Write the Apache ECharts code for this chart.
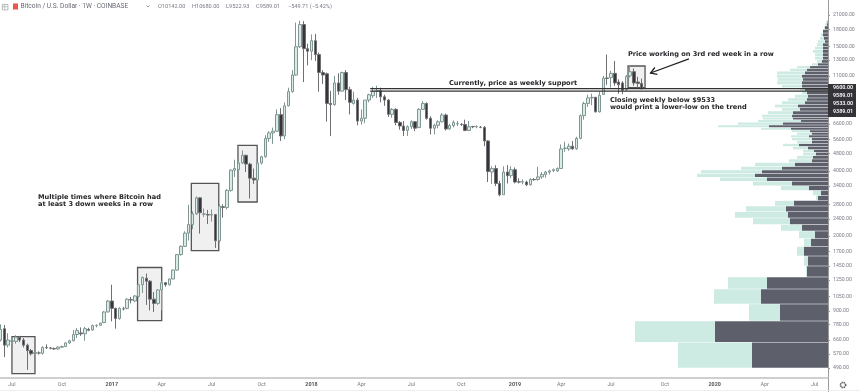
<!DOCTYPE html>
<html><head><meta charset="utf-8">
<style>html,body{margin:0;padding:0;background:#fff}#c{width:860px;height:392px}</style>
<script src="https://cdn.jsdelivr.net/npm/echarts@6/dist/echarts.min.js"></script>
</head><body><div id="c"></div>
<script>
// Weekly candles [open, close, low, high]
const candles2016 = [[660,740,650,780],[745,625,550,775],[625,660,610,710],[650,655,630,680],[650,680,635,695],[680,660,645,690],[660,625,610,675],[625,590,480,635],[590,570,560,600],[572,578,565,585],[575,575,565,585],[573,610,565,618],[610,608,600,630],[607,605,598,612],[603,600,595,610],[600,612,596,618],[612,616,606,622],[616,640,612,645],[640,655,632,662],[655,700,650,735],[700,730,675,750],[712,705,690,755],[705,745,655,760],[738,732,725,752],[735,770,728,778],[770,772,755,780],[772,790,768,795],[795,890,790,900],[890,1000,885,1010]];
const candles2017 = [[1000,925,805,1190],[925,830,745,930],[830,925,820,935],[920,920,905,940],[925,1020,915,1030],[1015,1010,975,1045],[1000,1055,990,1065],[1050,1190,1040,1200],[1190,1285,1090,1300],[1275,1235,960,1340],[1235,1020,905,1250],[1020,975,890,1100],[975,1125,960,1135],[1125,1215,906,1235],[1215,1190,1165,1225],[1190,1265,1180,1270],[1265,1390,1260,1400],[1390,1640,1380,1650],[1640,1790,1620,1810],[1790,2060,1780,2100],[2060,2260,1906,2790],[2260,2530,2150,2600],[2530,3000,2500,3050],[3000,2560,2050,3010],[2520,2530,2450,2680],[2510,2500,2270,2640],[2500,2510,2330,2650],[2510,1900,1760,2530],[1900,2750,1860,2800],[2730,2710,2430,2800],[2710,3250,2650,3290],[3250,4030,3200,4060],[4030,4100,3750,4500],[4050,4350,4000,4450],[4350,4720,4300,4970],[4720,4300,3950,4750],[4300,3700,2980,4360],[3700,3630,3480,4100],[3630,4350,3600,4400],[4350,4650,4280,4700],[4650,5650,4600,5850],[5650,5990,5450,6100],[5990,6100,5330,6340],[6100,7280,6050,7700],[7280,5800,5500,7800],[5800,8000,5600,8300],[8000,9300,7950,9700],[9300,11100,9200,11700],[11100,15000,11000,19400],[15000,19000,14800,19800],[19000,14700,10300,19700],[14700,14300,12300,15500]];
const candles2018 = [[14300,16000,13000,17100],[16000,13800,12900,17200],[13800,11400,9300,14100],[11400,11100,10100,11700],[11250,8200,6760,11400],[8200,8100,5790,9380],[8100,10200,8000,11000],[10200,9350,9000,11300],[9350,11400,9300,11500],[11400,9500,8500,11700],[9500,8300,7300,9800],[8200,8500,8100,9300],[8500,6800,6500,8700],[6800,7000,6550,7700],[7000,8500,6650,8500],[8500,9000,8300,9100],[8900,9300,8700,9800],[9350,9400,8700,9900],[9400,8800,8300,9700],[8800,8500,8000,9000],[8500,7300,7100,8600],[7300,7700,7050,7800],[7700,6700,6500,7800],[6700,6450,6200,6800],[6450,6150,5800,6800],[6150,6400,5800,6500],[6400,6750,6250,6850],[6750,6300,6100,6800],[6350,7700,6300,7800],[7700,8200,7650,8400],[8200,7000,6900,8300],[7000,6300,5900,7150],[6300,6500,5900,6600],[6500,6750,6300,6850],[6750,7250,6700,7400],[7250,6250,6150,7350],[6250,6480,6200,6600],[6480,6700,6350,6850],[6600,6620,6450,6800],[6560,6550,6450,6650],[6550,6150,6100,6900],[6150,6400,6100,6800],[6410,6400,6300,6460],[6400,6420,6300,6500],[6370,6360,6300,6450],[6350,5500,5200,6450],[5500,3970,3550,5550],[3950,4100,3480,4200],[4100,3500,3400,4250],[3500,3100,3050,3600],[3100,3950,3100,4200],[3950,3800,3500,4250],[3800,4050,3700,4200]];
const candles2019 = [[4050,3550,3500,4150],[3560,3550,3500,3700],[3550,3560,3470,3650],[3550,3450,3400,3600],[3450,3650,3420,3700],[3650,3640,3600,3700],[3650,3750,3600,4180],[3750,3850,3680,3950],[3850,3950,3720,4000],[3950,4000,3850,4050],[4010,4050,3950,4100],[4000,4100,3950,4150],[4100,5050,4090,5300],[5080,5100,4900,5450],[5050,5200,4950,5350],[5200,5060,5000,5500],[5060,5650,5000,5750],[5650,7200,5600,7300],[7200,8200,6900,8350],[8200,8700,7900,9000],[8700,8750,8050,9100],[8750,7500,7450,8800],[7500,8950,7450,9300],[9020,10740,9000,11000],[10760,10700,10000,13800],[10800,11300,9700,11600],[11300,10200,9900,12900],[10300,10000,9100,10600],[10200,9450,9050,10400],[9500,10950,9350,11100],[11000,11500,10800,12300],[11500,10200,9900,11900],[10300,10150,9700,10900],[10142,9589.01,9522.93,10680]];

// Volume profile: row edges in price (bottom to top), then volumes per row
const profileEdges = [490,645,808,969,1136,1292,1452,1615,1787,1946,2108,2258,2422,2590,2751,2914,3073,3247,3414,3577,3734,3884,4037,4193,4371,4538,4705,4873,5016,5189,5348,5526,5700,5858,6023,6181,6340,6525,6716,6893,7059,7292,7566,7845,8122,8412,8694,9020,9360,9693,10030,10410,10760,11156,11560,11900,12240,12610,13050,13510,14030,14540,15050,15600,16120,16720,17360,18030,18720,19330,19850];
const profileDark = [76,113,48,67,61,21,20,24,17,13,26,38,40,42,34,10,7,19,36,61,73,66,46,33,16,15,12,14,20,29,16,16,19,16,18,37,59,45,27,35,36,35,28,30,23,21,20,21,23,26,26,25,26,23,21,18,10,6,5,5,5,5,5,3,4,5,5,3,1,0.5];
const profileLight = [74,80,31,47,39,1,4,7,7,16,21,37,53,40,19,2,8,28,39,47,58,61,41,40,23,16,13,11,15,16,15,20,18,15,18,30,51,45,43,30,30,25,18,23,23,19,13,5,5,20,25,25,25,28,17,13,6,5,8,8,10,8,6,7,4,2,0,1,2,1.5];

// Price scale tick labels
const priceTicks = [490,570,660,780,900,1050,1250,1450,1700,2000,2400,2800,3400,4000,4800,5600,6600,11000,13000,15000,18000,21000,25000];

// Annotations
const boxes = [["2016-07-04","2016-08-15",684,462],["2017-02-18","2017-04-03",1429,811],["2017-05-27","2017-07-16",3503,1709],["2017-08-20","2017-09-24",5252,2871],["2019-08-01","2019-09-01",12220,9693]];
const supportLevels = [9600,9360];
const supportStart = "2018-04-18";
const arrowFrom = ["2019-11-20",13190];
const arrowTo = ["2019-09-11",11340];
const priceTags = ["9600.00","9589.01","9533.00","9389.01"];

const START = Date.UTC(2016,5,13), WEEK = 7*864e5, WEEK_COUNT = 216;
const weeks = [];
for (let i=0;i<WEEK_COUNT;i++) weeks.push(new Date(START+i*WEEK).toISOString().slice(0,10));
const weekPos = s => (Date.parse(s)-START)/WEEK;
const quarterStart = v => { const d=new Date(v); return d.getUTCDate()<=7 && d.getUTCMonth()%3===0; };
const MONTHS = {0:'',3:'Apr',6:'Jul',9:'Oct'};

const candles = [...candles2016,...candles2017,...candles2018,...candles2019];
const profileRows = profileDark.map((d,i)=>[profileEdges[i],profileEdges[i+1],d,profileLight[i]]);
const UP_FILL='#d8ebe6', UP_EDGE='#7f9692', DOWN='#36363a', DOWN_EDGE='#6e6e73', TEXT='#777b85', NOTE='#26262a';
const noteFont = {fontFamily:'"DejaVu Sans"',fontWeight:'bold',fontSize:6.6,fill:NOTE,lineHeight:7};

const chart = echarts.init(document.getElementById('c'),null,{renderer:'canvas'});
chart.setOption({
  animation:false,
  grid:{left:-1.5,right:32,top:-3,bottom:14,containLabel:false,outerBoundsMode:'none'},
  xAxis:[
    {type:'category',data:weeks,boundaryGap:true,
     axisLine:{lineStyle:{color:'#cfcfcf',width:2}},
     axisTick:{alignWithLabel:true,interval:(i,v)=>quarterStart(v),length:2,lineStyle:{color:'#999',width:1}},
     axisLabel:{interval:(i,v)=>quarterStart(v),margin:4,fontFamily:'Roboto',fontSize:5.4,color:TEXT,
       formatter:v=>{const d=new Date(v),m=d.getUTCMonth();return m===0?'{y|'+d.getUTCFullYear()+'}':MONTHS[m];},
       rich:{y:{fontFamily:'Roboto',fontSize:5.4,fontWeight:'bold',color:'#555'}}},
     splitLine:{show:false}},
    {type:'value',inverse:true,min:0,max:829.5,show:false,splitLine:{show:false}},
    {type:'value',min:-0.5,max:WEEK_COUNT-0.5,show:false,splitLine:{show:false}}
  ],
  yAxis:{type:'log',position:'right',min:440.5,max:25480,logBase:10,
    axisLine:{show:true,lineStyle:{color:'#9a9a9a',width:1}},
    axisTick:{show:true,length:2,customValues:priceTicks,lineStyle:{color:'#9a9a9a'}},
    axisLabel:{show:true,margin:5,customValues:priceTicks,fontFamily:'Roboto',fontSize:5.2,color:TEXT,formatter:v=>Number(v).toFixed(2)},
    splitLine:{show:false}},
  series:[
    {type:'custom',name:'Volume profile',xAxisIndex:1,yAxisIndex:0,z:1,clip:false,silent:true,data:profileRows,
     encode:{x:[2,3],y:[0,1]},
     renderItem:(p,api)=>{
       const lo=api.value(0),hi=api.value(1),d=api.value(2),l=api.value(3);
       const a=api.coord([0,lo]),b=api.coord([d,hi]),c=api.coord([d+l,hi]);
       const y=b[1]+0.25,h=a[1]-b[1]-0.5;
       return {type:'group',children:[
         {type:'rect',shape:{x:c[0],y,width:b[0]-c[0],height:h},style:{fill:'#cdeae3'}},
         {type:'rect',shape:{x:b[0],y,width:a[0]-b[0],height:h},style:{fill:'#5d606b'}}]};
     }},
    {type:'custom',name:'Boxes',xAxisIndex:2,yAxisIndex:0,z:2,silent:true,data:boxes.map(b=>[weekPos(b[0]),weekPos(b[1]),b[2],b[3]]),
     encode:{x:[0,1],y:[2,3]},
     renderItem:(p,api)=>{
       const a=api.coord([api.value(0),api.value(2)]),b=api.coord([api.value(1),api.value(3)]);
       return {type:'rect',shape:{x:a[0],y:a[1],width:b[0]-a[0],height:b[1]-a[1]},style:{fill:'#f0f0f0',stroke:'#555',lineWidth:1.3}};
     }},
    {type:'candlestick',name:'BTCUSD',xAxisIndex:0,yAxisIndex:0,z:3,barWidth:3,data:candles,silent:true,
     itemStyle:{color:UP_FILL,color0:DOWN,borderColor:UP_EDGE,borderColor0:DOWN_EDGE,borderWidth:1}},
    {type:'custom',name:'Support',xAxisIndex:2,yAxisIndex:0,z:4,silent:true,clip:false,data:supportLevels.map(v=>[weekPos(supportStart),v]),
     encode:{x:0,y:1},
     renderItem:(p,api)=>{
       const a=api.coord([api.value(0),api.value(1)]),b=api.coord([WEEK_COUNT-0.5,api.value(1)]);
       return {type:'line',shape:{x1:a[0],y1:a[1],x2:b[0],y2:b[1]},style:{stroke:'#333',lineWidth:1.2}};
     }},
    {type:'custom',name:'Arrow',xAxisIndex:2,yAxisIndex:0,z:5,silent:true,data:[[weekPos(arrowFrom[0]),arrowFrom[1],weekPos(arrowTo[0]),arrowTo[1]]],
     encode:{x:[0,2],y:[1,3]},
     renderItem:(p,api)=>{
       const a=api.coord([api.value(0),api.value(1)]),b=api.coord([api.value(2),api.value(3)]);
       const ang=Math.atan2(a[1]-b[1],a[0]-b[0]),L=7;
       const h=s=>[b[0]+L*Math.cos(ang+s),b[1]+L*Math.sin(ang+s)];
       return {type:'group',children:[
         {type:'line',shape:{x1:a[0],y1:a[1],x2:b[0],y2:b[1]},style:{stroke:'#222',lineWidth:1.3}},
         {type:'polyline',shape:{points:[h(0.55),b,h(-0.55)]},style:{stroke:'#222',fill:null,lineWidth:1.3}}]};
     }}
  ],
  graphic:[
    {type:'rect',left:2,top:4,shape:{width:5.5,height:5.5},style:{fill:'#fff',stroke:'#aaa',lineWidth:0.8}},
    {type:'line',shape:{x1:4.75,y1:4,x2:4.75,y2:9.5},style:{stroke:'#aaa',lineWidth:0.7}},
    {type:'line',shape:{x1:2,y1:6.75,x2:7.5,y2:6.75},style:{stroke:'#aaa',lineWidth:0.7}},
    {type:'rect',left:13,top:3.5,shape:{width:5,height:6},style:{fill:'#ef5350'}},
    {type:'text',left:20.5,top:3,style:{text:'Bitcoin / U.S. Dollar · 1W · COINBASE',font:'6.6px Roboto',fill:'#666a73'}},
    {type:'polyline',shape:{points:[[146.5,5.5],[148,7],[149.5,5.5]]},style:{stroke:'#666',fill:null,lineWidth:0.7}},
    {type:'text',left:158,top:4,style:{text:'O10142.00',font:'5.6px Roboto',fill:TEXT}},
    {type:'text',left:192,top:4,style:{text:'H10680.00',font:'5.6px Roboto',fill:TEXT}},
    {type:'text',left:226,top:4,style:{text:'L9522.93',font:'5.6px Roboto',fill:TEXT}},
    {type:'text',left:256,top:4,style:{text:'C9589.01',font:'5.6px Roboto',fill:TEXT}},
    {type:'text',left:288,top:4,style:{text:'−549.71 (−5.42%)',font:'5.6px Roboto',fill:TEXT}},
    {type:'text',left:38,top:193.5,z:10,style:Object.assign({text:'Multiple times where Bitcoin had\nat least 3 down weeks in a row'},noteFont)},
    {type:'text',left:449,top:79.5,z:10,style:Object.assign({text:'Currently, price as weekly support'},noteFont)},
    {type:'text',left:610,top:97,z:10,style:Object.assign({text:'Closing weekly below $9533\nwould print a lower-low on the trend'},noteFont)},
    {type:'text',left:628,top:51,z:10,style:Object.assign({text:'Price working on 3rd red week in a row'},noteFont)},
    {type:'rect',left:828,top:84,z:20,shape:{width:28,height:33},style:{fill:'#333338'}},
    ...priceTags.map((t,i)=>({type:'text',left:833,top:[85,93,101,109.5][i],z:21,style:{text:t,font:'bold 5.4px Roboto',fill:'#eee'}})),
    {type:'line',z:20,shape:{x1:828.5,y1:378,x2:828.5,y2:392},style:{stroke:'#9a9a9a',lineWidth:1}},
    {type:'line',z:20,shape:{x1:0,y1:390.5,x2:860,y2:390.5},style:{stroke:'#eeeeee',lineWidth:1}},
    {type:'circle',z:21,shape:{cx:843,cy:385,r:2.6},style:{fill:'#fff',stroke:'#555',lineWidth:1.6,lineDash:[1.2,0.9]}},
    {type:'circle',z:21,shape:{cx:843,cy:385,r:2.2},style:{fill:'#fff',stroke:'#666',lineWidth:0.6}}
  ]
});
</script></body></html>
